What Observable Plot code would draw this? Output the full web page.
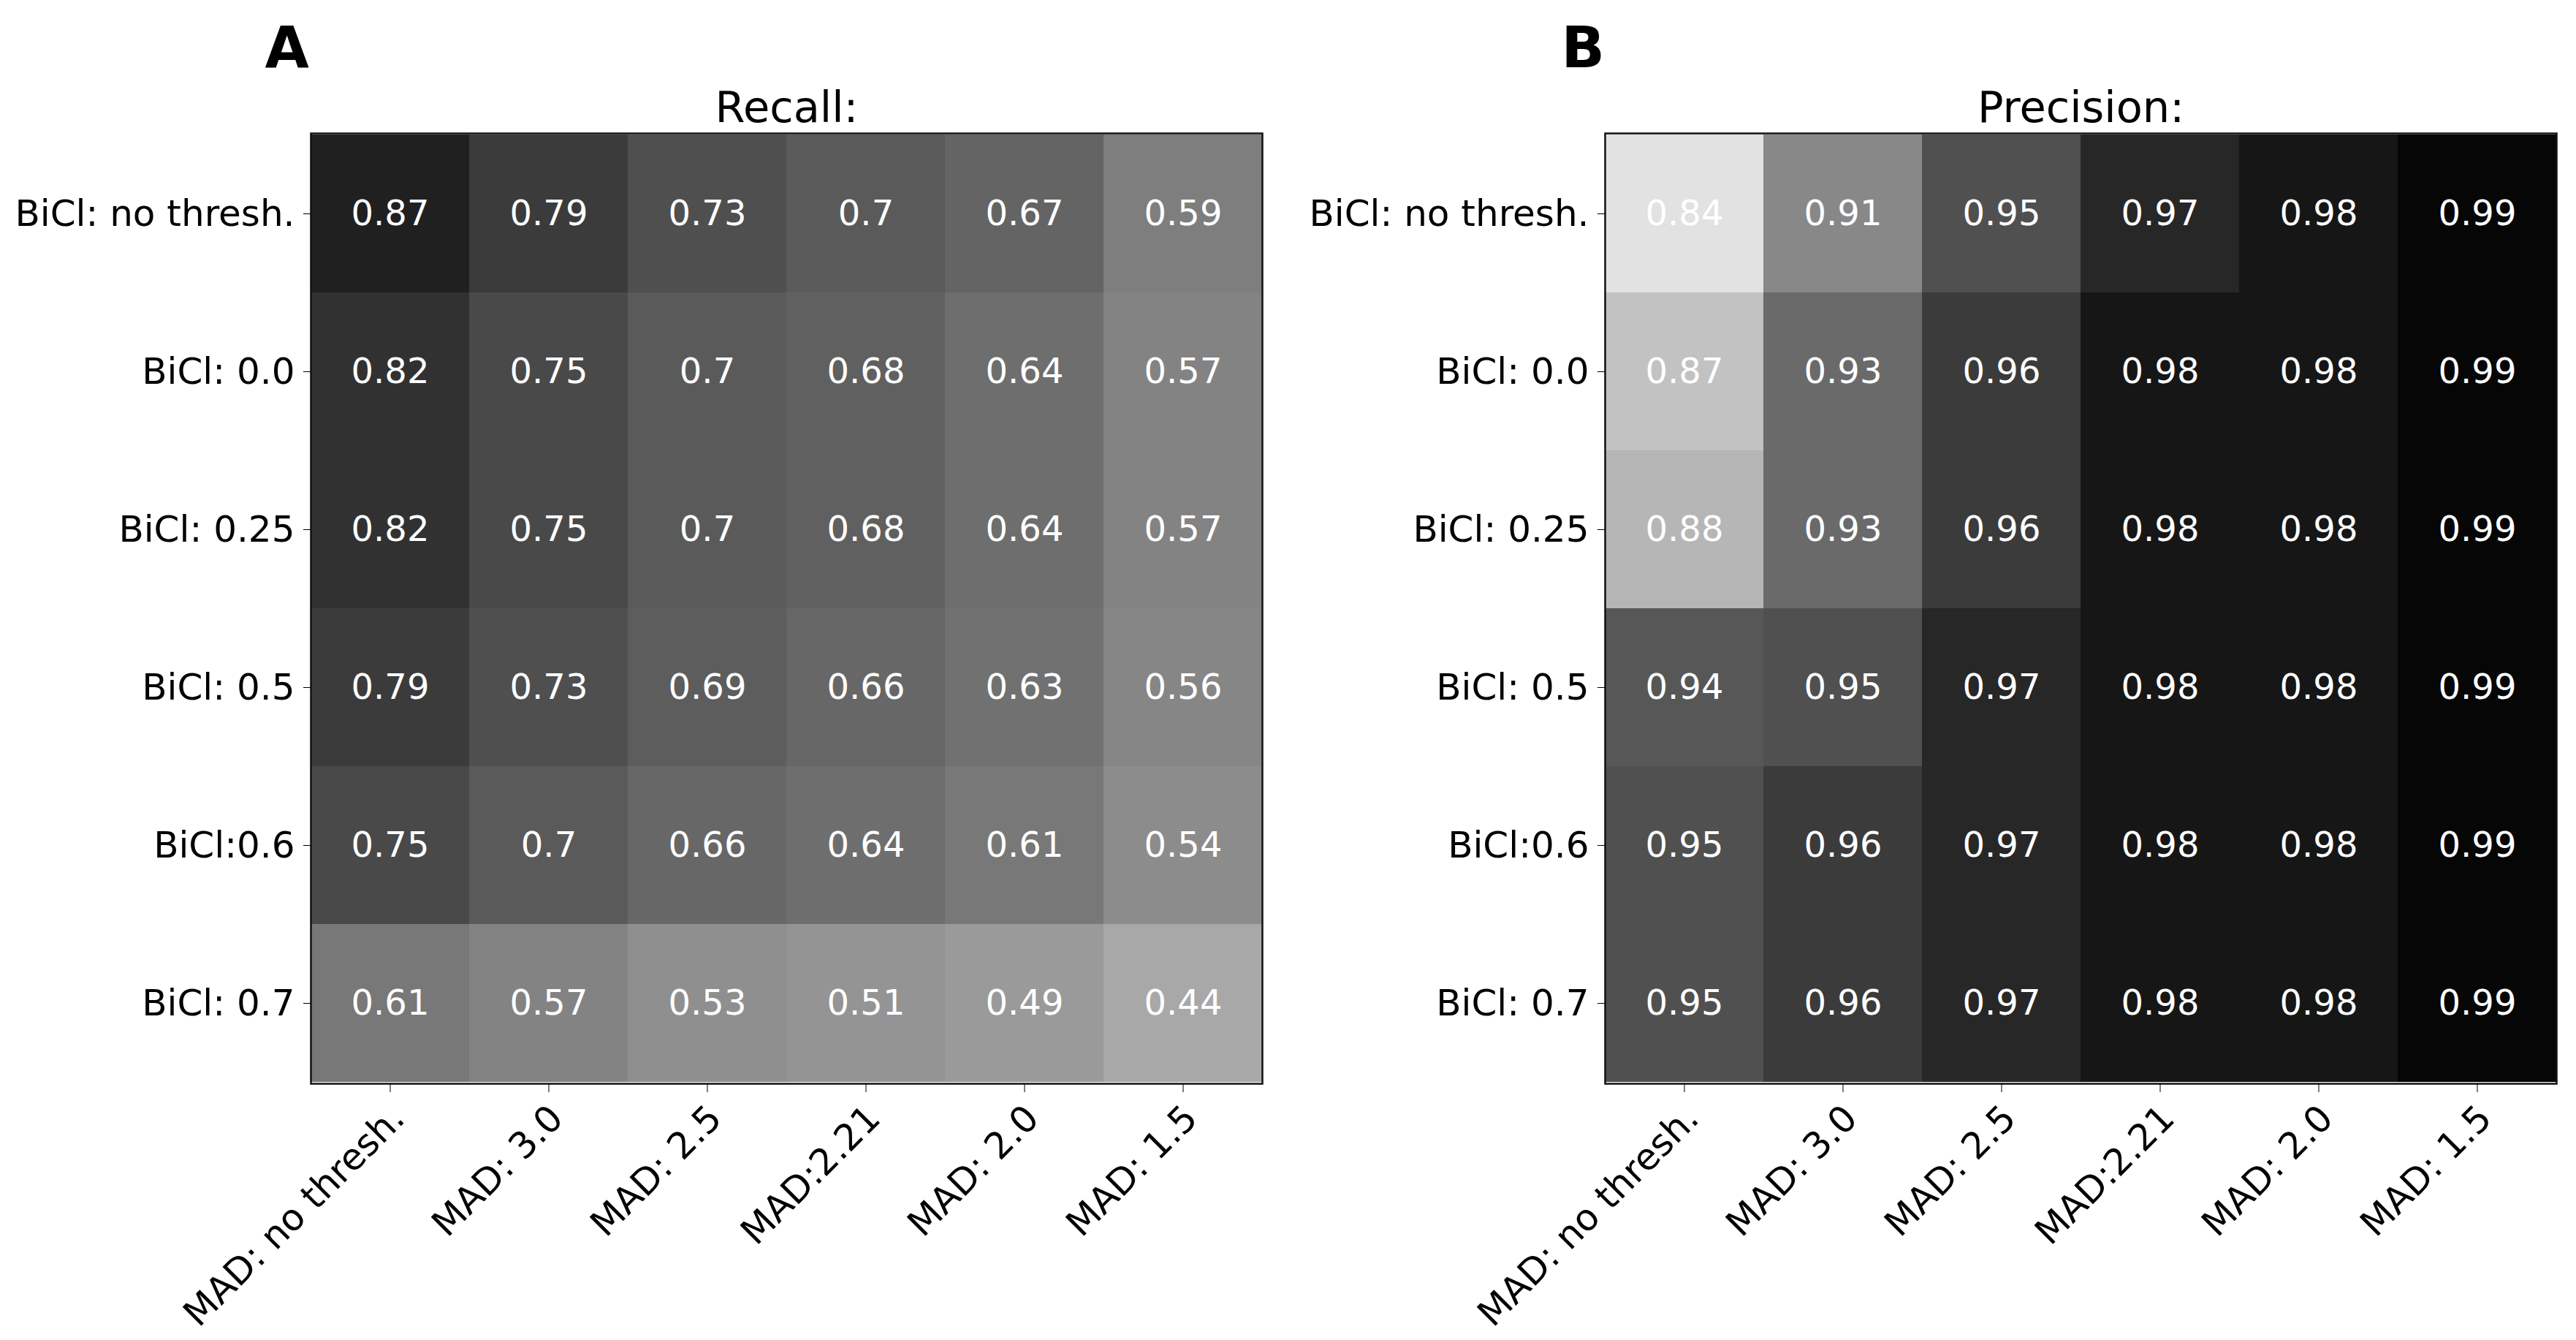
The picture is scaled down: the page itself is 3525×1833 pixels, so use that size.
<!DOCTYPE html>
<html>
<head>
<meta charset="utf-8">
<script src="https://cdn.jsdelivr.net/npm/d3@7"></script>
<script src="https://cdn.jsdelivr.net/npm/@observablehq/plot@0.6"></script>
<style>
  body { margin: 0; background: #fff; }
  #wrap { display: flex; width: 3525px; height: 1833px; }
  svg { font-family: "DejaVu Sans", sans-serif; }
</style>
</head>
<body>
<div id="wrap"></div>
<script>
// Column categories (x) and row categories (y)
const madLabels = ["MAD: no thresh.", "MAD: 3.0", "MAD: 2.5", "MAD:2.21", "MAD: 2.0", "MAD: 1.5"];
const biclLabels = ["BiCl: no thresh.", "BiCl: 0.0", "BiCl: 0.25", "BiCl: 0.5", "BiCl:0.6", "BiCl: 0.7"];

// Recall values, one row per BiCl threshold
const recall = [
  [0.87, 0.79, 0.73, 0.7, 0.67, 0.59],
  [0.82, 0.75, 0.7, 0.68, 0.64, 0.57],
  [0.82, 0.75, 0.7, 0.68, 0.64, 0.57],
  [0.79, 0.73, 0.69, 0.66, 0.63, 0.56],
  [0.75, 0.7, 0.66, 0.64, 0.61, 0.54],
  [0.61, 0.57, 0.53, 0.51, 0.49, 0.44]
];

// Precision values, one row per BiCl threshold
const precision = [
  [0.84, 0.91, 0.95, 0.97, 0.98, 0.99],
  [0.87, 0.93, 0.96, 0.98, 0.98, 0.99],
  [0.88, 0.93, 0.96, 0.98, 0.98, 0.99],
  [0.94, 0.95, 0.97, 0.98, 0.98, 0.99],
  [0.95, 0.96, 0.97, 0.98, 0.98, 0.99],
  [0.95, 0.96, 0.97, 0.98, 0.98, 0.99]
];

// Grey colour ramps (value -> grey)
const recallColorDomain = [0.44, 0.61, 0.87];
const recallColorRange = ["#a8a8a8", "#787878", "#202020"];
const precisionColorDomain = [0.84, 0.87, 0.88, 0.91, 0.93, 0.94, 0.95, 0.96, 0.97, 0.98, 0.99];
const precisionColorRange = ["#e2e2e2", "#c2c2c2", "#b6b6b6", "#888888", "#6a6a6a", "#575757", "#505050", "#3b3b3b", "#272727", "#161616", "#060606"];

function toCells(matrix) {
  return matrix.flatMap((row, i) => row.map((v, j) => ({bicl: biclLabels[i], mad: madLabels[j], value: v})));
}

function panel({letter, title, matrix, domain, range, width, marginLeft, marginRight, letterDx}) {
  const cells = toCells(matrix);
  return Plot.plot({
    width,
    height: 1833,
    marginLeft,
    marginRight,
    marginTop: 182,
    marginBottom: 351,
    style: {fontFamily: '"DejaVu Sans", sans-serif', background: "white", color: "black", overflow: "visible"},
    x: {domain: madLabels, padding: 0, label: null},
    y: {domain: biclLabels, padding: 0, label: null},
    color: {type: "linear", domain, range},
    marks: [
      Plot.cell(cells, {x: "mad", y: "bicl", fill: "value", inset: 0, shapeRendering: "crispEdges"}),
      Plot.text(cells, {x: "mad", y: "bicl", text: d => String(d.value), fill: "white", fontSize: 48}),
      Plot.frame({stroke: "#111", strokeWidth: 2.5}),
      Plot.axisY({tickSize: 10, tickPadding: 12, fontSize: 50, label: null, fill: "none"}),
      Plot.axisY({tickSize: 0, tickPadding: 22, fontSize: 50, label: null, stroke: "none", fill: "black"}),
      Plot.axisX({tickSize: 12, label: null, fill: "none"}),
      Plot.axisX({tickSize: 0, tickPadding: 39, fontSize: 50, tickRotate: -45, label: null, stroke: "none", fill: "black", dx: 11}),
      Plot.text([title], {frameAnchor: "top", text: d => d, dy: -16, lineAnchor: "bottom", fontSize: 59, fill: "black"}),
      Plot.text([letter], {frameAnchor: "top-left", text: d => d, dx: letterDx, dy: -91, lineAnchor: "bottom", textAnchor: "start", fontSize: 78, fontWeight: "bold", fill: "black"})
    ]
  });
}

const wrap = document.getElementById("wrap");
wrap.appendChild(panel({
  letter: "A", title: "Recall:", matrix: recall,
  domain: recallColorDomain, range: recallColorRange,
  width: 1762, marginLeft: 425, marginRight: 35, letterDx: -63
}));
wrap.appendChild(panel({
  letter: "B", title: "Precision:", matrix: precision,
  domain: precisionColorDomain, range: precisionColorRange,
  width: 1763, marginLeft: 434, marginRight: 27, letterDx: -60
}));
</script>
</body>
</html>
